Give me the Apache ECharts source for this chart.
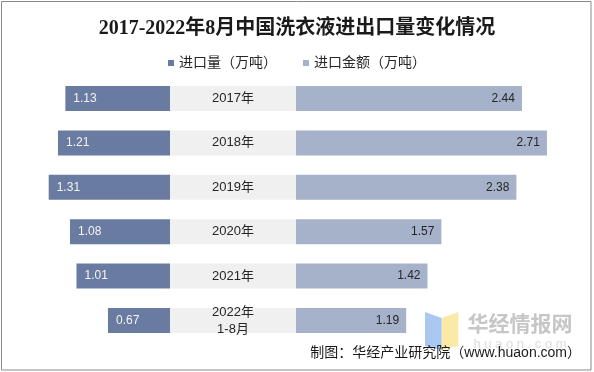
<!DOCTYPE html>
<html>
<head>
<meta charset="utf-8">
<script src="https://cdn.jsdelivr.net/npm/echarts@6/dist/echarts.min.js"></script>
<style>
html,body{margin:0;padding:0;background:#fff;}
#main{width:594px;height:372px;}
</style>
</head>
<body>
<div id="main"></div>
<script>
// ---- data ----
const categories = ['2017年', '2018年', '2019年', '2020年', '2021年', '2022年\n1-8月'];
const importVolume = [1.13, 1.21, 1.31, 1.08, 1.01, 0.67];
const importValue = [2.44, 2.71, 2.38, 1.57, 1.42, 1.19];
const seriesNames = ['进口量（万吨）', '进口金额（万吨）'];
const titleText = '2017-2022年8月中国洗衣液进出口量变化情况';
const sourceText = '制图：华经产业研究院（www.huaon.com）';

const SANS = "'Liberation Sans', Arial, 'Noto Sans CJK SC', sans-serif";
const SERIF = "'Liberation Serif', 'DejaVu Serif', 'Noto Sans CJK SC', serif";

const chart = echarts.init(document.getElementById('main'), null, {renderer: 'canvas'});

const gridTop = 76.3, gridHeight = 266.4;
const center = categories.map(() => 1);

const option = {
  backgroundColor: '#ffffff',
  animation: false,
  title: {
    text: titleText,
    left: 'center',
    top: 14,
    textStyle: {fontFamily: SERIF, fontSize: 20, fontWeight: 'bold', color: '#1a1a1a'}
  },
  legend: {
    data: seriesNames,
    top: 51,
    left: 'center',
    icon: 'rect',
    itemWidth: 6,
    itemHeight: 6,
    itemGap: 26,
    textStyle: {fontFamily: SANS, fontSize: 14, color: '#262626'}
  },
  grid: [
    {left: 21.84, width: 148.16, top: gridTop, height: gridHeight},
    {left: 170, width: 126, top: gridTop, height: gridHeight},
    {left: 296, width: 277.8, top: gridTop, height: gridHeight}
  ],
  xAxis: [
    {gridIndex: 0, type: 'value', min: 0, max: 1.6, inverse: true, show: false},
    {gridIndex: 1, type: 'value', min: 0, max: 1, show: false},
    {gridIndex: 2, type: 'value', min: 0, max: 3, show: false}
  ],
  yAxis: [0, 1, 2].map(i => ({
    gridIndex: i, type: 'category', inverse: true, data: categories, show: false
  })),
  series: [
    {
      name: seriesNames[0], type: 'bar', xAxisIndex: 0, yAxisIndex: 0,
      data: importVolume, barWidth: 25,
      itemStyle: {color: '#6A7BA1'},
      label: {show: true, position: 'insideLeft', distance: 8, color: '#f4f4f4',
        fontFamily: SANS, fontSize: 12}
    },
    {
      name: 'category', type: 'bar', xAxisIndex: 1, yAxisIndex: 1,
      data: center, barWidth: 25, silent: true,
      itemStyle: {color: '#F0F0F0'},
      label: {show: true, position: 'inside', formatter: p => p.name, color: '#262626',
        fontFamily: SANS, fontSize: 13, lineHeight: 17}
    },
    {
      name: seriesNames[1], type: 'bar', xAxisIndex: 2, yAxisIndex: 2,
      data: importValue, barWidth: 25,
      itemStyle: {color: '#A6B1CA'},
      label: {show: true, position: 'insideRight', distance: 7, color: '#262626',
        fontFamily: SANS, fontSize: 12}
    }
  ],
  graphic: [
    {type: 'rect', z: 0, silent: true,
      shape: {x: 1.5, y: 1.5, width: 589.5, height: 368.5},
      style: {fill: 'none', stroke: '#8a8a8a', lineWidth: 1}},
    {type: 'polygon', z: 1, silent: true,
      shape: {points: [[425, 312], [441.7, 318], [441.7, 350], [425, 346]]},
      style: {fill: '#A9C9F2'}},
    {type: 'polygon', z: 1, silent: true,
      shape: {points: [[441.7, 318], [458.3, 312], [458.3, 346], [441.7, 350]]},
      style: {fill: '#FBE9A6'}},
    {type: 'text', z: 1, silent: true,
      style: {text: '华经情报网', x: 520, y: 323, textAlign: 'center', textVerticalAlign: 'middle',
        font: "bold 21px 'Noto Sans CJK SC', sans-serif", fill: '#C6C6C6'}},
    {type: 'text', z: 1, silent: true,
      style: {text: 'h u a o n . c o m', x: 520, y: 344, textAlign: 'center', textVerticalAlign: 'middle',
        font: "13px " + SANS, fill: '#DCDCDC'}},
    {type: 'text', z: 5, silent: true,
      style: {text: sourceText, x: 581, y: 353, textAlign: 'right', textVerticalAlign: 'middle',
        font: "14px " + SANS, fill: '#1a1a1a'}}
  ]
};
chart.setOption(option);
</script>
</body>
</html>
